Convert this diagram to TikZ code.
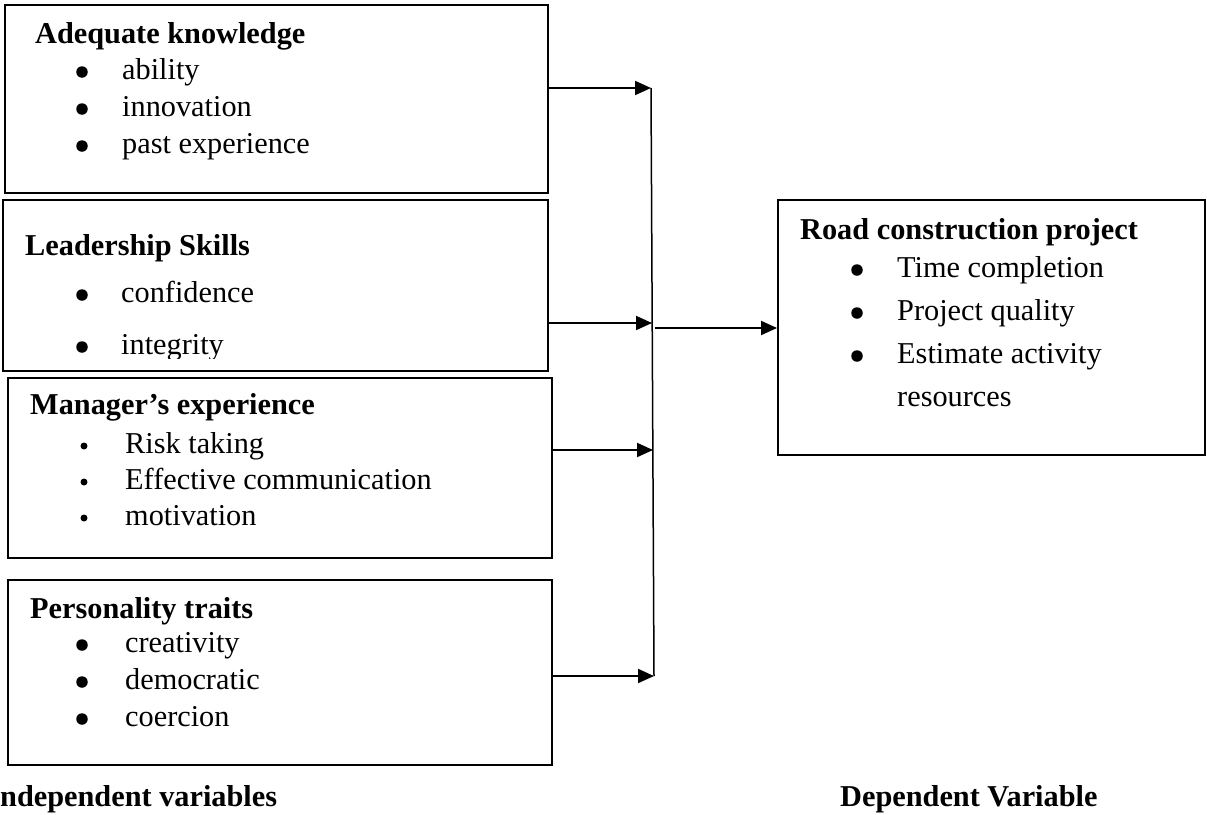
\documentclass[tikz,border=0pt]{standalone}
\usepackage{fontspec}
\setmainfont{Liberation Serif}
\usetikzlibrary{arrows.meta}

\begin{document}
\begin{tikzpicture}[x=1pt, y=-1pt,
  every node/.style={font=\fontsize{30.3}{36}\selectfont},
  box/.style={draw, line width=2pt, inner sep=0pt},
  head/.style={anchor=west, inner sep=0pt, text height=21pt, text depth=7pt,
    font=\fontsize{30.3}{36}\selectfont\bfseries},
  item/.style={anchor=west, inner sep=0pt, text height=21pt, text depth=7pt},
  dot/.style={circle, fill, inner sep=0pt, minimum size=11.5pt},
  smalldot/.style={circle, fill, inner sep=0pt, minimum size=7pt},
  arr/.style={line width=2pt, -{Triangle[length=16pt,width=14pt]}}]
  \useasboundingbox (0,0) rectangle (1207,814);

  % boxes
  \node[box, minimum width=543pt, minimum height=188pt] (know) at (276.5,99) {};
  \node[box, minimum width=545pt, minimum height=171pt] (lead) at (275.5,285.5) {};
  \node[box, minimum width=544pt, minimum height=180pt] (mgr) at (280,468) {};
  \node[box, minimum width=544pt, minimum height=185pt] (pers) at (280,672.5) {};
  \node[box, minimum width=427pt, minimum height=255pt] (road) at (991.5,327.5) {};

  % Adequate knowledge
  \node[head] (knowh) at (35,36) {Adequate knowledge};
  \foreach \t [count=\i] in {ability, innovation, past experience} {
    \node[dot] (kd\i) at (82,35+37*\i) {};
    \node[item] (k\i) at (122,35+37*\i) {\t};
  }

  % Leadership Skills
  \node[head] (leadh) at (25,248) {Leadership Skills};
  \node[dot] (ld1) at (82,295) {};
  \node[item] (l1) at (121,295) {confidence};
  \begin{scope}
    \clip (0,200) rectangle (548,358);
    \node[dot] (ld2) at (82,347) {};
    \node[item] (l2) at (121,347) {integrity};
  \end{scope}

  % Manager's experience
  \node[head] (mgrh) at (30,407) {Manager’s experience};
  \foreach \t [count=\i] in {Risk taking, Effective communication, motivation} {
    \node[smalldot] (md\i) at (84,410+36*\i) {};
    \node[item] (m\i) at (125,410+36*\i) {\t};
  }

  % Personality traits
  \node[head] (persh) at (30,611) {Personality traits};
  \foreach \t [count=\i] in {creativity, democratic, coercion} {
    \node[dot] (pd\i) at (82,608+37*\i) {};
    \node[item] (p\i) at (125,608+37*\i) {\t};
  }

  % Road construction project
  \node[head] (roadh) at (800,232) {Road construction project};
  \foreach \t [count=\i] in {Time completion, Project quality, Estimate activity} {
    \node[dot] (rd\i) at (857,227+43*\i) {};
    \node[item] (r\i) at (897,227+43*\i) {\t};
  }
  \node[item] (r4) at (897,399) {resources};

  % arrows
  \coordinate (j1) at (651,88);
  \coordinate (j2) at (652,323);
  \coordinate (j3) at (653,450);
  \coordinate (j4) at (654,676);
  \coordinate (hub) at (655,328);
  \draw[line width=1.5pt] (j1) -- (j4);
  \draw[arr] (know.east |- j1) -- (j1);
  \draw[arr] (lead.east |- j2) -- (j2);
  \draw[arr] (mgr.east |- j3) -- (j3);
  \draw[arr] (pers.east |- j4) -- (j4);
  \draw[arr] (hub) -- (road.west |- hub);

  % labels
  \node[head] (indep) at (0,799) {ndependent variables};
  \node[head] (dep) at (840,799) {Dependent Variable};
\end{tikzpicture}
\end{document}
